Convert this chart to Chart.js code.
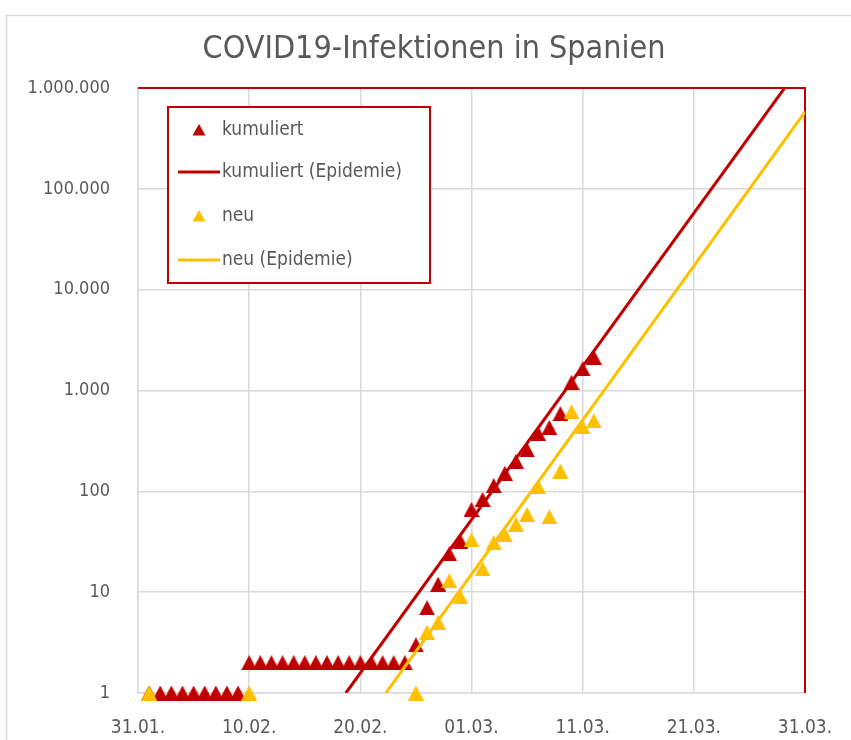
<!DOCTYPE html>
<html>
<head>
<meta charset="utf-8">
<script src="https://cdn.jsdelivr.net/npm/chart.js@4/dist/chart.umd.min.js"></script>
<style>
html,body{margin:0;padding:0;background:#fff;overflow:hidden}
#wrap{position:relative;width:851px;height:740px}
</style>
</head>
<body>
<div id="wrap"><canvas id="c" width="851" height="740"></canvas></div>
<script>
// ---- data ----
const chartTitle = "COVID19-Infektionen in Spanien";
const seriesLabels = ["kumuliert", "kumuliert (Epidemie)", "neu", "neu (Epidemie)"];

const kumDates = [
  "01.02.","02.02.","03.02.","04.02.","05.02.","06.02.","07.02.","08.02.","09.02.",
  "10.02.","11.02.","12.02.","13.02.","14.02.","15.02.","16.02.","17.02.","18.02.","19.02.",
  "20.02.","21.02.","22.02.","23.02.","24.02.",
  "25.02.","26.02.","27.02.","28.02.","29.02.",
  "01.03.","02.03.","03.03.","04.03.","05.03.","06.03.","07.03.","08.03.","09.03.","10.03.","11.03.","12.03."
];
const kumValues = [
  1,1,1,1,1,1,1,1,1,
  2,2,2,2,2,2,2,2,2,2,
  2,2,2,2,2,
  3,7,12,24,32,
  66,83,114,151,198,257,374,430,589,1204,1639,2140
];

const neuDates = [
  "01.02.","10.02.",
  "25.02.","26.02.","27.02.","28.02.","29.02.",
  "01.03.","02.03.","03.03.","04.03.","05.03.","06.03.","07.03.","08.03.","09.03.","10.03.","11.03.","12.03."
];
const neuValues = [
  1,1,
  1,4,5,13,9,
  33,17,31,37,47,59,111,56,159,615,435,501
];

// fitted "Epidemie" lines: start and end points (days after 31.01.)
const epiKumDays = [18.7, 60];
const epiKumValues = [1, 1900000];
const epiNeuDays = [22.3, 60];
const epiNeuValues = [1, 580000];

const xTickLabels = ["31.01.","10.02.","20.02.","01.03.","11.03.","21.03.","31.03."];
const yTickValues = [1, 10, 100, 1000, 10000, 100000, 1000000];

// ---- helpers ----
function dayIndex(s){
  const p = s.split('.').map(Number);
  const d = p[0], m = p[1];
  if (m === 1) return d - 31;
  if (m === 2) return d;
  return 29 + d;
}
function fmtDE(v){
  return String(Math.round(v)).replace(/\B(?=(\d{3})+(?!\d))/g, '.');
}
function triCanvas(color, w, h){
  const c = document.createElement('canvas');
  c.width = w; c.height = h;
  const g = c.getContext('2d');
  g.fillStyle = color;
  g.beginPath();
  g.moveTo(w/2, 0); g.lineTo(w, h); g.lineTo(0, h); g.closePath();
  g.fill();
  return c;
}

const RED = '#c00000';
const YEL = '#ffc000';
const GRID = '#d9d9d9';
const TXT = '#595959';
const FONT = "'Liberation Sans Narrow','DejaVu Sans Condensed','Roboto',sans-serif";

const redTri = triCanvas(RED, 16, 15);
const yelTri = triCanvas(YEL, 16, 15);

const decor = {
  id: 'decor',
  beforeDraw(chart){
    const ctx = chart.ctx;
    ctx.save();
    ctx.fillStyle = '#fff';
    ctx.fillRect(0,0,chart.width,chart.height);
    ctx.strokeStyle = GRID;
    ctx.lineWidth = 1.5;
    ctx.strokeRect(6.5, 15.5, 860, 740);
    ctx.restore();
  },
  beforeDatasetsDraw(chart){
    const a = chart.chartArea, ctx = chart.ctx;
    ctx.save();
    ctx.strokeStyle = RED;
    ctx.lineWidth = 2;
    ctx.beginPath();
    ctx.moveTo(a.left, a.top); ctx.lineTo(a.right, a.top); ctx.lineTo(a.right, a.bottom);
    ctx.stroke();
    ctx.restore();
  },
  afterDraw(chart){
    const ctx = chart.ctx;
    ctx.save();
    // title
    ctx.fillStyle = TXT;
    ctx.font = "32px " + FONT;
    ctx.textAlign = 'center';
    ctx.textBaseline = 'middle';
    ctx.fillText(chartTitle, 434, 50);
    // legend
    ctx.fillStyle = '#fff';
    ctx.fillRect(168, 107, 262, 176);
    ctx.strokeStyle = RED;
    ctx.lineWidth = 2;
    ctx.strokeRect(168, 107, 262, 176);
    const rows = [130, 172, 216, 260];
    const ds = chart.data.datasets;
    ctx.font = "19px " + FONT;
    ctx.textAlign = 'left';
    [0,1,2,3].forEach((i, r) => {
      const d = ds[i], y = rows[r];
      if (d.showLine === false) {
        ctx.fillStyle = d.pointBackgroundColor;
        ctx.beginPath();
        ctx.moveTo(199, y-6); ctx.lineTo(205.5, y+5.5); ctx.lineTo(192.5, y+5.5); ctx.closePath();
        ctx.fill();
      } else {
        ctx.strokeStyle = d.borderColor;
        ctx.lineWidth = 3;
        ctx.beginPath(); ctx.moveTo(178, y); ctx.lineTo(220, y); ctx.stroke();
      }
      ctx.fillStyle = TXT;
      ctx.fillText(d.label, 222, y);
    });
    ctx.restore();
  }
};

new Chart(document.getElementById('c'), {
  type: 'line',
  data: {
    datasets: [
      {
        label: seriesLabels[0],
        data: kumDates.map((d,i)=>({x: dayIndex(d), y: kumValues[i]})),
        showLine: false,
        pointStyle: redTri,
        pointRadius: 8,
        pointBackgroundColor: RED,
        borderColor: RED,
        clip: false,
        order: 4
      },
      {
        label: seriesLabels[1],
        data: epiKumDays.map((d,i)=>({x: d, y: epiKumValues[i]})),
        borderColor: RED,
        borderWidth: 3,
        pointRadius: 0,
        order: 3
      },
      {
        label: seriesLabels[2],
        data: neuDates.map((d,i)=>({x: dayIndex(d), y: neuValues[i]})),
        showLine: false,
        pointStyle: yelTri,
        pointRadius: 8,
        pointBackgroundColor: YEL,
        borderColor: YEL,
        clip: false,
        order: 2
      },
      {
        label: seriesLabels[3],
        data: epiNeuDays.map((d,i)=>({x: d, y: epiNeuValues[i]})),
        borderColor: YEL,
        borderWidth: 3,
        pointRadius: 0,
        order: 1
      }
    ]
  },
  options: {
    responsive: false,
    animation: false,
    devicePixelRatio: 1,
    layout: { padding: { top: 88, right: 46, bottom: 0, left: 0 } },
    plugins: { legend: { display: false }, title: { display: false }, tooltip: { enabled: false } },
    scales: {
      x: {
        type: 'linear', min: 0, max: 60,
        afterFit(s){ s.height = 47; s.paddingLeft = 0; s.paddingRight = 0; },
        ticks: {
          stepSize: 10, padding: 24, color: TXT, maxRotation: 0,
          font: { family: FONT, size: 19 },
          callback: v => xTickLabels[Math.round(v/10)]
        },
        grid: { color: GRID, lineWidth: 1.5, drawTicks: false },
        border: { color: GRID, width: 1.5 }
      },
      y: {
        type: 'logarithmic', min: 1, max: 1000000,
        afterFit(s){ s.width = 138; s.paddingTop = 0; s.paddingBottom = 0; },
        afterBuildTicks(s){ s.ticks = yTickValues.map(v => ({ value: v, major: true })); },
        ticks: {
          padding: 28, color: TXT,
          font: { family: FONT, size: 18 },
          callback: v => fmtDE(v)
        },
        grid: { color: GRID, lineWidth: 1.5, drawTicks: false },
        border: { color: GRID, width: 1.5 }
      }
    }
  },
  plugins: [decor]
});
</script>
</body>
</html>
